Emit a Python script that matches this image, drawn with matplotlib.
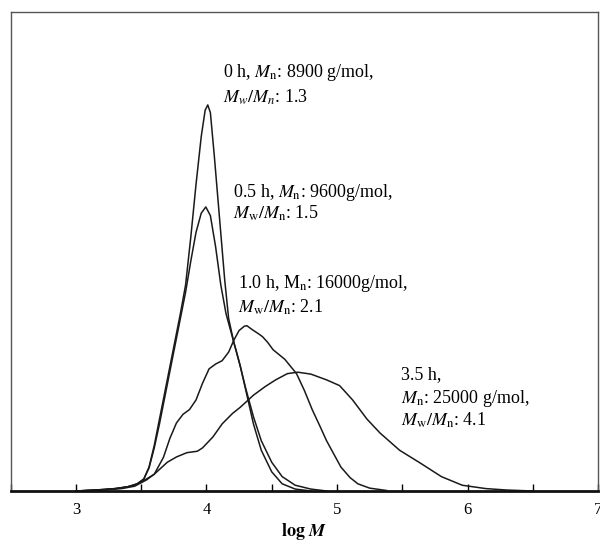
import matplotlib
matplotlib.use("Agg")
import matplotlib.pyplot as plt
from matplotlib.ticker import MultipleLocator

plt.rcParams['font.family'] = 'serif'
plt.rcParams['font.serif'] = ['Liberation Serif', 'DejaVu Serif']
plt.rcParams['mathtext.fontset'] = 'stix'

# GPC traces (log M vs. normalised detector signal)
logm_0h = [3.0, 3.15, 3.3, 3.4, 3.47, 3.52, 3.56, 3.60, 3.64, 3.68, 3.72, 3.76, 3.80,
           3.84, 3.88, 3.92, 3.96, 3.99, 4.01, 4.03, 4.06, 4.10, 4.14, 4.17, 4.21,
           4.26, 4.31, 4.36, 4.42, 4.50, 4.58, 4.68, 4.80]
sig_0h = [0.0, 0.002, 0.005, 0.009, 0.015, 0.025, 0.05, 0.095, 0.15, 0.205, 0.26, 0.315,
          0.37, 0.43, 0.53, 0.64, 0.74, 0.795, 0.806, 0.79, 0.70, 0.57, 0.44, 0.36,
          0.31, 0.26, 0.20, 0.14, 0.085, 0.04, 0.015, 0.004, 0.0]

logm_05h = [3.0, 3.15, 3.3, 3.4, 3.47, 3.52, 3.56, 3.60, 3.64, 3.68, 3.72, 3.76, 3.80,
            3.84, 3.88, 3.92, 3.96, 3.995, 4.03, 4.07, 4.11, 4.15, 4.20, 4.25, 4.30,
            4.36, 4.42, 4.50, 4.58, 4.68, 4.80, 4.92]
sig_05h = [0.0, 0.002, 0.005, 0.009, 0.015, 0.025, 0.048, 0.09, 0.14, 0.195, 0.25, 0.305,
           0.36, 0.415, 0.48, 0.54, 0.58, 0.593, 0.575, 0.51, 0.43, 0.37, 0.32, 0.27,
           0.215, 0.155, 0.105, 0.06, 0.03, 0.012, 0.004, 0.0]

logm_1h = [3.0, 3.2, 3.35, 3.45, 3.54, 3.60, 3.67, 3.72, 3.77, 3.82, 3.87, 3.92, 3.97,
           4.02, 4.07, 4.12, 4.17, 4.21, 4.25, 4.29, 4.31, 4.35, 4.40, 4.43, 4.47, 4.51,
           4.60, 4.69, 4.75, 4.81, 4.87, 4.92, 4.98, 5.03, 5.10, 5.16, 5.25, 5.38]
sig_1h = [0.0, 0.002, 0.006, 0.012, 0.025, 0.035, 0.07, 0.11, 0.142, 0.16, 0.17, 0.19,
          0.225, 0.255, 0.265, 0.272, 0.29, 0.315, 0.335, 0.344, 0.345, 0.337, 0.328,
          0.322, 0.31, 0.295, 0.275, 0.245, 0.21, 0.17, 0.135, 0.105, 0.075, 0.05,
          0.028, 0.015, 0.006, 0.001]

logm_35h = [3.0, 3.2, 3.35, 3.45, 3.54, 3.60, 3.70, 3.77, 3.85, 3.93, 3.97, 4.05, 4.12,
            4.20, 4.26, 4.36, 4.45, 4.53, 4.62, 4.70, 4.80, 4.92, 5.02, 5.12, 5.23,
            5.33, 5.48, 5.64, 5.80, 5.96, 6.14, 6.30, 6.50]
sig_35h = [0.0, 0.002, 0.005, 0.01, 0.023, 0.035, 0.06, 0.071, 0.08, 0.083, 0.09, 0.113,
           0.14, 0.162, 0.175, 0.2, 0.218, 0.232, 0.245, 0.248, 0.244, 0.232, 0.22,
           0.19, 0.15, 0.121, 0.085, 0.058, 0.03, 0.012, 0.005, 0.002, 0.0]

xticks = [3, 4, 5, 6, 7]

fig = plt.figure(figsize=(6.0, 5.45), dpi=100)
ax = fig.add_axes([0.0178, 0.0991, 0.9789, 0.8789])

for lx, sy in [(logm_0h, sig_0h), (logm_05h, sig_05h), (logm_1h, sig_1h), (logm_35h, sig_35h)]:
    ax.plot(lx, sy, color='#1a1a1a', linewidth=1.1)

ax.set_xlim(2.5, 7)
ax.set_ylim(0, 1)
ax.set_xticks(xticks)
ax.xaxis.set_minor_locator(MultipleLocator(0.5))
ax.set_yticks([])
ax.tick_params(axis='x', which='both', direction='in', length=5, width=1, labelsize=12, pad=8)

for side in ['top', 'left', 'right']:
    ax.spines[side].set_color('#555555')
    ax.spines[side].set_linewidth(1.0)
ax.spines['bottom'].set_linewidth(2.0)
ax.spines['bottom'].set_color('#111111')

ax.set_xlabel(r'$\mathbf{log}\ \boldsymbol{M}$', fontsize=13, labelpad=2)

fs = 13
ax.text(4.13, 0.873, r'0 h, $M_\mathrm{n}$: 8900 g/mol,', fontsize=fs, va='center')
ax.text(4.13, 0.822, r'$M_w/M_n$: 1.3', fontsize=fs, va='center')
ax.text(4.20, 0.624, r'0.5 h, $M_\mathrm{n}$: 9600g/mol,', fontsize=fs, va='center')
ax.text(4.20, 0.579, r'$M_\mathrm{w}/M_\mathrm{n}$: 1.5', fontsize=fs, va='center')
ax.text(4.24, 0.434, r'1.0 h, M$_\mathrm{n}$: 16000g/mol,', fontsize=fs, va='center')
ax.text(4.24, 0.384, r'$M_\mathrm{w}/M_\mathrm{n}$: 2.1', fontsize=fs, va='center')
ax.text(5.49, 0.242, r'3.5 h,', fontsize=fs, va='center')
ax.text(5.49, 0.194, r'$M_\mathrm{n}$: 25000 g/mol,', fontsize=fs, va='center')
ax.text(5.49, 0.148, r'$M_\mathrm{w}/M_\mathrm{n}$: 4.1', fontsize=fs, va='center')

fig.savefig('out.png', dpi=100)
